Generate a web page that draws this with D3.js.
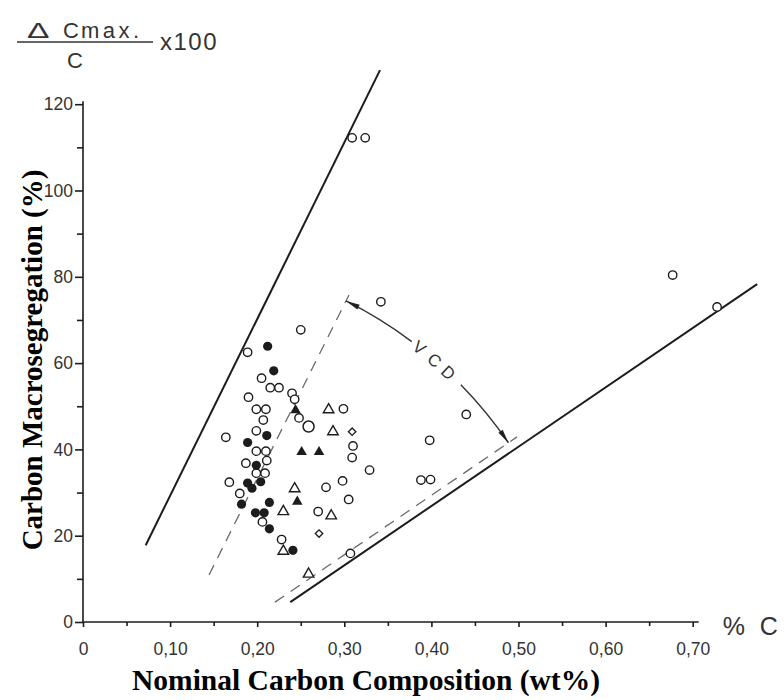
<!DOCTYPE html>
<html><head><meta charset="utf-8">
<script src="https://cdn.jsdelivr.net/npm/d3@7"></script>
<style>body{margin:0;background:#fff}</style>
</head><body>
<svg id="chart" width="784" height="700"></svg>
<script>
// ---- tick labels ----
const xTickValues = [0, 0.1, 0.2, 0.3, 0.4, 0.5, 0.6, 0.7];
const xTickLabels = ["0", "0,10", "0,20", "0,30", "0,40", "0,50", "0,60", "0,70"];
const xMinorTicks = [0.05, 0.15, 0.25, 0.35, 0.45, 0.55, 0.65];
const yTickValues = [0, 20, 40, 60, 80, 100, 120];
const yMinorTicks = [10, 30, 50, 70, 90, 110];

// ---- data series: [nominal C (wt%), macrosegregation (%)] ----
const openCircles = [
  [0.309,112.2],[0.324,112.2],[0.677,80.4],[0.728,73.0],[0.342,74.2],[0.250,67.7],
  [0.189,62.5],[0.205,56.5],[0.215,54.3],[0.225,54.3],[0.240,53.0],[0.190,52.1],
  [0.243,51.6],[0.199,49.3],[0.210,49.3],[0.248,47.3],[0.207,46.8],[0.199,44.3],
  [0.164,42.8],[0.199,39.6],[0.210,39.6],[0.187,36.8],[0.211,37.4],[0.199,34.5],
  [0.209,34.5],[0.168,32.4],[0.180,29.8],[0.206,23.2],[0.228,19.1],[0.299,49.4],
  [0.310,40.8],[0.309,38.1],[0.329,35.2],[0.298,32.7],[0.279,31.2],[0.305,28.4],
  [0.270,25.6],[0.307,15.9],[0.388,32.9],[0.399,33.0],[0.398,42.1],[0.440,48.1]
];
const openCirclesLarge = [[0.259,45.3]];
const filledCircles = [
  [0.212,63.9],[0.219,58.2],[0.211,43.2],[0.189,41.6],[0.199,36.3],[0.204,32.5],
  [0.189,32.2],[0.194,31.0],[0.182,27.3],[0.214,27.7],[0.198,25.3],[0.208,25.3],
  [0.214,21.6],[0.241,16.6]
];
const openTriangles = [
  [0.282,49.2],[0.287,44.1],[0.243,30.9],[0.230,25.6],[0.285,24.6],[0.230,16.4],[0.259,11.1]
];
const filledTriangles = [[0.244,49.1],[0.251,39.4],[0.271,39.4],[0.246,27.9]];
const openDiamonds = [[0.309,44.1],[0.271,20.5]];

// ---- guide lines (data units) ----
const upperLine = [[0.072,17.8],[0.341,127.9]];
const lowerLine = [[0.238,4.6],[0.774,78.3]];
const dashedSteep = [[0.1447,10.9],[0.3054,75.8]];
const dashedShallow = [[0.2204,4.6],[0.4983,42.9]];
const vcdArcStart = [0.302,74.4];
const vcdLetters = ["V","C","D"];
const vcdLetterPos = [0.40,0.49,0.575];
const vcdGap = [0.355,0.655];

const svg = d3.select("#chart");
const ink = "#1c1c1c";
const x = d3.scaleLinear().domain([0,0.7]).range([83,692.7]);
const y = d3.scaleLinear().domain([0,120]).range([622,104.2]);
const tickFont = "'Liberation Sans Narrow','Arial Narrow','Liberation Sans',sans-serif";

// axes
const gx = svg.append("g").attr("transform",`translate(0,${y(0)})`)
  .call(d3.axisBottom(x).tickValues(xTickValues).tickFormat((d,i)=>xTickLabels[i]).tickSize(5).tickSizeOuter(0).tickPadding(16));
const gxm = svg.append("g").attr("transform",`translate(0,${y(0)})`)
  .call(d3.axisBottom(x).tickValues(xMinorTicks).tickFormat("").tickSize(4).tickSizeOuter(0));
gxm.select(".domain").remove();
gx.select(".domain").attr("d",`M${x(0)},0H${x(0.7)+6}`);
const gy = svg.append("g").attr("transform",`translate(${x(0)},0)`)
  .call(d3.axisLeft(y).tickValues(yTickValues).tickFormat(d3.format("d")).tickSize(8).tickSizeOuter(0).tickPadding(2));
const gym = svg.append("g").attr("transform",`translate(${x(0)},0)`)
  .call(d3.axisLeft(y).tickValues(yMinorTicks).tickFormat("").tickSize(6).tickSizeOuter(0));
gym.select(".domain").remove();
gy.select(".domain").attr("d",`M0,${y(0)}V${y(120)-3}`);
svg.selectAll(".domain,.tick line").attr("stroke",ink).attr("stroke-width",1.6);
svg.selectAll(".tick text").attr("font-family",tickFont).attr("font-size",17.5).attr("fill","#333");

// "% C"
svg.append("text").attr("x",x(0.7)+30).attr("y",y(0)+13).attr("font-family","'Liberation Sans',sans-serif")
  .attr("font-size",25).attr("fill","#333").attr("letter-spacing",4).text("% C");

// fraction label
const fr = svg.append("g").attr("font-family","'Liberation Sans',sans-serif").attr("fill","#333");
fr.append("text").attr("transform","translate(27,38) scale(1.6,1.05)").attr("font-size",21).text("\u0394");
fr.append("text").attr("x",63).attr("y",38).attr("font-size",22).text("C");
fr.append("text").attr("x",81).attr("y",38).attr("font-size",22).attr("letter-spacing",3.5).text("max.");
fr.append("line").attr("x1",17).attr("x2",153).attr("y1",42).attr("y2",42).attr("stroke","#333").attr("stroke-width",1.5);
fr.append("text").attr("x",75).attr("y",68).attr("text-anchor","middle").attr("font-size",22).text("C");
fr.append("text").attr("x",160).attr("y",50).attr("font-size",24).attr("letter-spacing",1.5).text("x100");

// axis titles
svg.append("text").attr("x",366).attr("y",690).attr("text-anchor","middle")
  .attr("font-family","'Liberation Serif','Times New Roman',serif").attr("font-weight","bold").attr("font-size",29.5)
  .text("Nominal Carbon Composition (wt%)");
svg.append("text").attr("transform","translate(42,360) rotate(-90)").attr("text-anchor","middle")
  .attr("font-family","'Liberation Serif','Times New Roman',serif").attr("font-weight","bold").attr("font-size",29)
  .text("Carbon Macrosegregation (%)");

// guide lines
const line = d3.line().x(d=>x(d[0])).y(d=>y(d[1]));
svg.append("path").attr("d",line(upperLine)).attr("stroke",ink).attr("stroke-width",2).attr("fill","none");
svg.append("path").attr("d",line(lowerLine)).attr("stroke",ink).attr("stroke-width",2).attr("fill","none");
[dashedSteep,dashedShallow].forEach(l=>{
  svg.append("path").attr("d",line(l)).attr("stroke","#6a6a6a").attr("stroke-width",1.3)
    .attr("stroke-dasharray","11,8").attr("fill","none");
});

// VCD arc
const P = d=>[x(d[0]),y(d[1])];
function intersect(p1,p2,p3,p4){
  const d=(p1[0]-p2[0])*(p3[1]-p4[1])-(p1[1]-p2[1])*(p3[0]-p4[0]);
  const t=((p1[0]-p3[0])*(p3[1]-p4[1])-(p1[1]-p3[1])*(p3[0]-p4[0]))/d;
  return [p1[0]+t*(p2[0]-p1[0]),p1[1]+t*(p2[1]-p1[1])];
}
const c = intersect(P(dashedSteep[0]),P(dashedSteep[1]),P(dashedShallow[0]),P(dashedShallow[1]));
const s = P(vcdArcStart);
const r = Math.hypot(s[0]-c[0],s[1]-c[1]);
const a0 = Math.atan2(P(dashedSteep[1])[1]-c[1],P(dashedSteep[1])[0]-c[0]);
const a1 = Math.atan2(P(dashedShallow[1])[1]-c[1],P(dashedShallow[1])[0]-c[0]);
const at = f=>a0+f*(a1-a0);
const arcG = svg.append("g");
[[0,vcdGap[0]],[vcdGap[1],1]].forEach(([f0,f1])=>{
  const p=d3.path(); p.arc(c[0],c[1],r,at(f0),at(f1));
  arcG.append("path").attr("d",p.toString()).attr("stroke","#333").attr("stroke-width",1.4).attr("fill","none");
});
function arrowHead(th, sign){
  const tip=[c[0]+r*Math.cos(th),c[1]+r*Math.sin(th)];
  const dir=[-Math.sin(th)*sign, Math.cos(th)*sign];
  const nrm=[Math.cos(th),Math.sin(th)];
  const L=14,W=2.6;
  const b=[tip[0]-L*dir[0],tip[1]-L*dir[1]];
  arcG.append("path").attr("d",`M${tip}L${b[0]+W*nrm[0]},${b[1]+W*nrm[1]}L${b[0]-W*nrm[0]},${b[1]-W*nrm[1]}Z`).attr("fill","#222");
}
arrowHead(a0,-1); arrowHead(a1,1);
vcdLetters.forEach((t,i)=>{
  const th=at(vcdLetterPos[i]);
  const px=c[0]+r*Math.cos(th), py=c[1]+r*Math.sin(th);
  arcG.append("text").attr("transform",`translate(${px},${py}) rotate(${th*180/Math.PI+90})`)
    .attr("text-anchor","middle").attr("dy","0.36em").attr("font-family","'Liberation Sans',sans-serif")
    .attr("font-size",17).attr("fill","#333").text(t);
});

// markers
const pts = svg.append("g");
pts.selectAll(".oc").data(openCircles).join("circle").attr("cx",d=>x(d[0])).attr("cy",d=>y(d[1]))
  .attr("r",4.2).attr("fill","#fff").attr("stroke",ink).attr("stroke-width",1.4);
pts.selectAll(".ocl").data(openCirclesLarge).join("circle").attr("cx",d=>x(d[0])).attr("cy",d=>y(d[1]))
  .attr("r",5.5).attr("fill","#fff").attr("stroke",ink).attr("stroke-width",1.5);
pts.selectAll(".fc").data(filledCircles).join("circle").attr("cx",d=>x(d[0])).attr("cy",d=>y(d[1]))
  .attr("r",4.6).attr("fill",ink);
const tri = d3.symbol().type(d3.symbolTriangle).size(48);
pts.selectAll(".ot").data(openTriangles).join("path").attr("d",tri)
  .attr("transform",d=>`translate(${x(d[0])},${y(d[1])})`).attr("fill","#fff").attr("stroke",ink).attr("stroke-width",1.4);
pts.selectAll(".ft").data(filledTriangles).join("path").attr("d",tri)
  .attr("transform",d=>`translate(${x(d[0])},${y(d[1])})`).attr("fill",ink);
const dia = d3.symbol().type(d3.symbolSquare).size(28);
pts.selectAll(".od").data(openDiamonds).join("path").attr("d",dia)
  .attr("transform",d=>`translate(${x(d[0])},${y(d[1])}) rotate(45)`).attr("fill","#fff").attr("stroke",ink).attr("stroke-width",1.3);
</script>
</body></html>
